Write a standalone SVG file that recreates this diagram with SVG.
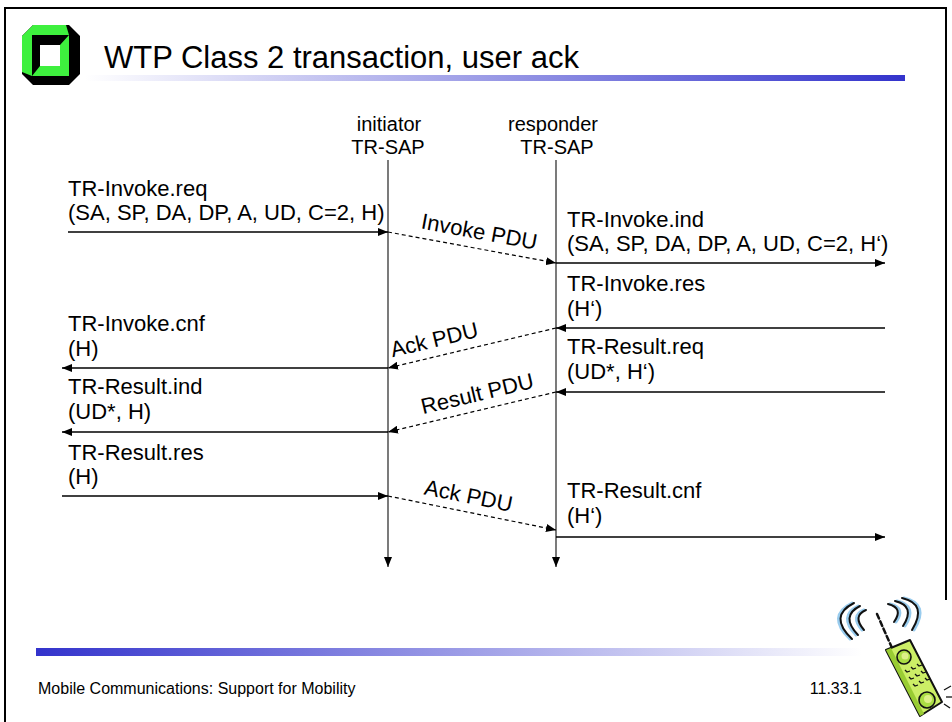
<svg xmlns="http://www.w3.org/2000/svg" width="952" height="722" viewBox="0 0 952 722">
  <style>
    text { font-family: "Liberation Sans", Arial, sans-serif; fill: #000; }
    .title { font-size: 31px; }
    .lbl { font-size: 22px; }
    .sap { font-size: 20px; }
    .foot { font-size: 16px; }
    .msg { stroke: #000; stroke-width: 1.3; fill: none; marker-end: url(#ah); }
    .pdu { stroke: #000; stroke-width: 1.2; fill: none; stroke-dasharray: 4 3; marker-end: url(#ah); }
    .life { stroke: #333; stroke-width: 1.3; fill: none; marker-end: url(#ah); }
  </style>
  <defs>
    <marker id="ah" viewBox="0 0 10 8" refX="10" refY="4" markerWidth="10" markerHeight="8" markerUnits="userSpaceOnUse" orient="auto">
      <path d="M0,0 L10,4 L0,8 z" fill="#000"/>
    </marker>
    <linearGradient id="headBar" x1="0" y1="0" x2="1" y2="0">
      <stop offset="0" stop-color="#ffffff"/>
      <stop offset="1" stop-color="#3333cc"/>
    </linearGradient>
    <linearGradient id="footBar" x1="0" y1="0" x2="1" y2="0">
      <stop offset="0" stop-color="#3333cc"/>
      <stop offset="1" stop-color="#ffffff"/>
    </linearGradient>
  </defs>

  <!-- page frame -->
  <rect x="5" y="8" width="941" height="730" fill="#fff" stroke="#000" stroke-width="2"/>

  <!-- header: logo, title, gradient rule -->
  <g id="logo">
    <polygon points="33,25 69,25 80,36 80,74 69,85 33,85 22,74 22,36" fill="#000"/>
    <polygon points="33,25 66,25 69,35 32,35 32,76 22,72 22,36" fill="#3ef03e"/>
    <polygon points="69,35 69,76 32,76 40,66 60,66 60,45" fill="#3ef03e"/>
    <rect x="40" y="45" width="20" height="21" fill="#fff"/>
  </g>
  <text class="title" x="104" y="68">WTP Class 2 transaction, user ack</text>
  <rect x="85" y="75" width="820" height="6" fill="url(#headBar)"/>

  <!-- service access points -->
  <g id="initiator">
    <text class="sap" x="389" y="131" text-anchor="middle">initiator</text>
    <text class="sap" x="388" y="154" text-anchor="middle">TR-SAP</text>
  </g>
  <g id="responder">
    <text class="sap" x="553" y="131" text-anchor="middle">responder</text>
    <text class="sap" x="557" y="154" text-anchor="middle">TR-SAP</text>
  </g>

  <!-- primitive labels -->
  <g id="invoke-req">
    <text class="lbl" x="68" y="196">TR-Invoke.req</text>
    <text class="lbl" x="68" y="220">(SA, SP, DA, DP, A, UD, C=2, H)</text>
  </g>
  <g id="invoke-ind">
    <text class="lbl" x="567" y="227">TR-Invoke.ind</text>
    <text class="lbl" x="567" y="251">(SA, SP, DA, DP, A, UD, C=2, H‘)</text>
  </g>
  <g id="invoke-res">
    <text class="lbl" x="567" y="291">TR-Invoke.res</text>
    <text class="lbl" x="567" y="316">(H‘)</text>
  </g>
  <g id="invoke-cnf">
    <text class="lbl" x="68" y="331">TR-Invoke.cnf</text>
    <text class="lbl" x="68" y="356">(H)</text>
  </g>
  <g id="result-req">
    <text class="lbl" x="567" y="354">TR-Result.req</text>
    <text class="lbl" x="567" y="379">(UD*, H‘)</text>
  </g>
  <g id="result-ind">
    <text class="lbl" x="68" y="394">TR-Result.ind</text>
    <text class="lbl" x="68" y="419">(UD*, H)</text>
  </g>
  <g id="result-res">
    <text class="lbl" x="68" y="460">TR-Result.res</text>
    <text class="lbl" x="68" y="484">(H)</text>
  </g>
  <g id="result-cnf">
    <text class="lbl" x="567" y="498">TR-Result.cnf</text>
    <text class="lbl" x="567" y="523">(H‘)</text>
  </g>

  <!-- PDU labels along the dashed exchanges -->
  <g id="pdu-labels">
    <text class="lbl" x="478" y="239" text-anchor="middle" transform="rotate(10.45 478 239)">Invoke PDU</text>
    <text class="lbl" x="436" y="347" text-anchor="middle" transform="rotate(-13.4 436 347)">Ack PDU</text>
    <text class="lbl" x="479" y="401" text-anchor="middle" transform="rotate(-13.4 479 401)">Result PDU</text>
    <text class="lbl" x="467" y="503" text-anchor="middle" transform="rotate(11.44 467 503)">Ack PDU</text>
  </g>

  <!-- connectors -->
  <g id="connectors">
    <line class="life" x1="388" y1="160" x2="388" y2="567"/>
    <line class="life" x1="556" y1="160" x2="556" y2="567"/>

    <line class="msg" x1="68" y1="232" x2="388" y2="232"/>
    <line class="pdu" x1="388" y1="232" x2="556" y2="263"/>
    <line class="msg" x1="556" y1="263" x2="885" y2="263"/>

    <line class="msg" x1="885" y1="328" x2="556" y2="328"/>
    <line class="pdu" x1="556" y1="328" x2="388" y2="368"/>
    <line class="msg" x1="388" y1="368" x2="62" y2="368"/>

    <line class="msg" x1="885" y1="392" x2="556" y2="392"/>
    <line class="pdu" x1="556" y1="392" x2="388" y2="432"/>
    <line class="msg" x1="388" y1="432" x2="62" y2="432"/>

    <line class="msg" x1="62" y1="496" x2="388" y2="496"/>
    <line class="pdu" x1="388" y1="496" x2="556" y2="530"/>
    <line class="msg" x1="556" y1="537" x2="885" y2="537"/>
  </g>

  <!-- footer -->
  <rect x="36" y="648" width="826" height="8" fill="url(#footBar)"/>
  <text class="foot" x="38" y="694">Mobile Communications: Support for Mobility</text>
  <text class="foot" x="862" y="694" text-anchor="end">11.33.1</text>

  <!-- handset clip art -->
  <g id="phone">
    <rect x="930" y="600" width="22" height="122" fill="#fff"/>
    <g fill="none" stroke-linecap="round">
      <!-- signal waves, left -->
      <path d="M864,610 Q850,616 862,630" stroke="#99ccee" stroke-width="3"/>
      <path d="M858,606 Q838,616 856,635" stroke="#99ccee" stroke-width="3"/>
      <path d="M852,603 Q826,616 850,639" stroke="#99ccee" stroke-width="3"/>
      <path d="M866,610 Q852,616 864,630" stroke="#111" stroke-width="2"/>
      <path d="M860,606 Q840,616 858,635" stroke="#111" stroke-width="2"/>
      <path d="M854,603 Q828,616 852,639" stroke="#111" stroke-width="2"/>
      <!-- signal waves, right -->
      <path d="M890,604 Q906,608 896,622" stroke="#99ccee" stroke-width="3"/>
      <path d="M897,601 Q918,606 905,626" stroke="#99ccee" stroke-width="3"/>
      <path d="M904,598 Q930,604 914,630" stroke="#99ccee" stroke-width="3"/>
      <path d="M888,604 Q904,608 894,622" stroke="#111" stroke-width="2"/>
      <path d="M895,601 Q916,606 903,626" stroke="#111" stroke-width="2"/>
      <path d="M902,598 Q928,604 912,630" stroke="#111" stroke-width="2"/>
      <!-- antenna -->
      <line x1="877" y1="614" x2="892" y2="648" stroke="#111" stroke-width="2.5" stroke-dasharray="5 3"/>
    </g>
    <polygon points="886,650 910,640 942,702 920,716" fill="#ccee66" stroke="#111" stroke-width="2" stroke-linejoin="round"/>
    <polygon points="886,650 891,648 924,714 920,716" fill="#99cc33"/>
    <circle cx="904" cy="657" r="7" fill="#aadd44" stroke="#111" stroke-width="1.6"/>
    <circle cx="905" cy="656" r="3.5" fill="#ddf088"/>
    <circle cx="927" cy="700" r="8" fill="#aadd44" stroke="#111" stroke-width="1.6"/>
    <circle cx="928" cy="699" r="4" fill="#ddf088"/>
    <g stroke="#111" stroke-width="1.3" fill="none">
      <path d="M905,670 l2,2 l3,-1"/><path d="M911,667 l2,2 l3,-1"/><path d="M917,664 l2,2 l3,-1"/>
      <path d="M909,677 l2,2 l3,-1"/><path d="M915,674 l2,2 l3,-1"/><path d="M921,671 l2,2 l3,-1"/>
      <path d="M913,684 l2,2 l3,-1"/><path d="M919,681 l2,2 l3,-1"/><path d="M925,678 l2,2 l3,-1"/>
      <line x1="944" y1="690" x2="951" y2="686"/>
      <line x1="946" y1="697" x2="952" y2="697"/>
      <line x1="944" y1="704" x2="950" y2="708"/>
    </g>
  </g>
</svg>
